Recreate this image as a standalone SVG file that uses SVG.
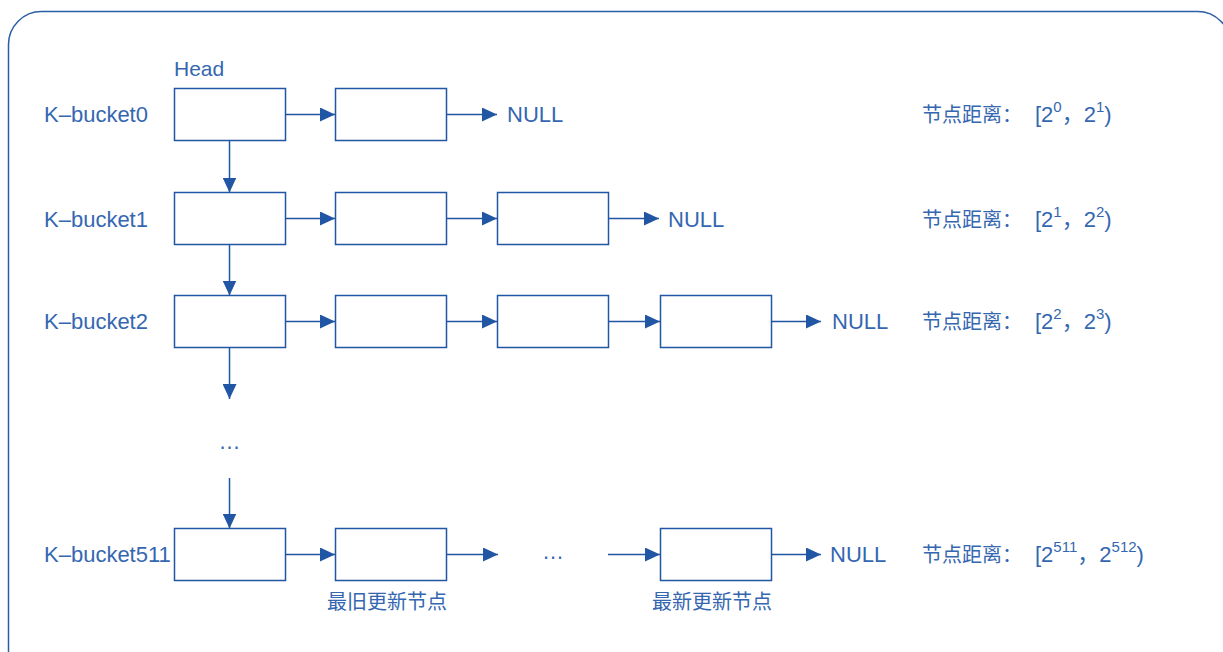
<svg xmlns="http://www.w3.org/2000/svg" width="1223" height="652" viewBox="0 0 1223 652">
<style>
.frame{fill:none;stroke:#2c5ea8;stroke-width:1.5}
.box{fill:#ffffff;stroke:#2156a5;stroke-width:1.5}
.ln{fill:none;stroke:#2156a5;stroke-width:1.5;marker-end:url(#ah)}
.t{font-family:"Liberation Sans","Noto Sans CJK SC",sans-serif;fill:#3567b1;font-size:22px}
.h{font-size:21px}
.c{font-family:"Noto Sans CJK SC","Liberation Sans",sans-serif;font-size:20px;fill:#3567b1}
.s{font-size:15px}
</style>
<defs>
<marker id="ah" markerUnits="userSpaceOnUse" markerWidth="16" markerHeight="14" refX="15" refY="7" orient="auto">
<path d="M0,0 L15,7 L0,14 z" fill="#2156a5"/>
</marker>
</defs>
<rect class="frame" x="8.5" y="11.5" width="1222" height="680" rx="33" ry="33"/>

<text class="t h" x="174" y="76">Head</text>

<g id="row0">
<text class="t" x="44" y="122">K–bucket0</text>
<rect id="b0_1" class="box" x="174.5" y="88.5" width="111" height="52"/>
<rect id="b0_2" class="box" x="335.5" y="88.5" width="111" height="52"/>
<text class="t" x="507" y="122">NULL</text>
</g>
<g id="row1">
<text class="t" x="44" y="226.5">K–bucket1</text>
<rect id="b1_1" class="box" x="174.5" y="192.5" width="111" height="52"/>
<rect id="b1_2" class="box" x="335.5" y="192.5" width="111" height="52"/>
<rect id="b1_3" class="box" x="497.5" y="192.5" width="111" height="52"/>
<text class="t" x="668" y="226.5">NULL</text>
</g>
<g id="row2">
<text class="t" x="44" y="329">K–bucket2</text>
<rect id="b2_1" class="box" x="174.5" y="295.5" width="111" height="52"/>
<rect id="b2_2" class="box" x="335.5" y="295.5" width="111" height="52"/>
<rect id="b2_3" class="box" x="497.5" y="295.5" width="111" height="52"/>
<rect id="b2_4" class="box" x="660.5" y="295.5" width="111" height="52"/>
<text class="t" x="832" y="329">NULL</text>
</g>
<g id="ellipsis">
<text class="t" x="229.5" y="449" text-anchor="middle">…</text>
</g>
<g id="row511">
<text class="t" x="44" y="562">K–bucket511</text>
<rect id="b511_1" class="box" x="174.5" y="528.5" width="111" height="52"/>
<rect id="b511_2" class="box" x="335.5" y="528.5" width="111" height="52"/>
<text class="t" x="553" y="559" text-anchor="middle">…</text>
<rect id="b511_4" class="box" x="660.5" y="528.5" width="111" height="52"/>
<text class="t" x="830" y="562">NULL</text>
<text class="c" x="327" y="609">最旧更新节点</text>
<text class="c" x="652" y="609">最新更新节点</text>
</g>

<g id="distances">
<text class="c" x="922" y="122">节点距离：</text>
<text class="t" x="1035" y="122">[2<tspan class="s" dy="-10">0</tspan><tspan dy="10" font-family="Noto Sans CJK SC">，</tspan>2<tspan class="s" dy="-10">1</tspan><tspan dy="10">)</tspan></text>
<text class="c" x="922" y="226.5">节点距离：</text>
<text class="t" x="1035" y="226.5">[2<tspan class="s" dy="-10">1</tspan><tspan dy="10" font-family="Noto Sans CJK SC">，</tspan>2<tspan class="s" dy="-10">2</tspan><tspan dy="10">)</tspan></text>
<text class="c" x="922" y="329">节点距离：</text>
<text class="t" x="1035" y="329">[2<tspan class="s" dy="-10">2</tspan><tspan dy="10" font-family="Noto Sans CJK SC">，</tspan>2<tspan class="s" dy="-10">3</tspan><tspan dy="10">)</tspan></text>
<text class="c" x="922" y="562">节点距离：</text>
<text class="t" x="1035" y="562">[2<tspan class="s" dy="-10">511</tspan><tspan dy="10" font-family="Noto Sans CJK SC">，</tspan>2<tspan class="s" dy="-10">512</tspan><tspan dy="10">)</tspan></text>
</g>

<g id="connectors">
<line class="ln" x1="285.5" y1="114.5" x2="335" y2="114.5"/>
<line class="ln" x1="446.5" y1="114.5" x2="497" y2="114.5"/>
<line class="ln" x1="285.5" y1="218.5" x2="335" y2="218.5"/>
<line class="ln" x1="446.5" y1="218.5" x2="497" y2="218.5"/>
<line class="ln" x1="608.5" y1="218.5" x2="659" y2="218.5"/>
<line class="ln" x1="285.5" y1="321.5" x2="335" y2="321.5"/>
<line class="ln" x1="446.5" y1="321.5" x2="497" y2="321.5"/>
<line class="ln" x1="608.5" y1="321.5" x2="660" y2="321.5"/>
<line class="ln" x1="771.5" y1="321.5" x2="821" y2="321.5"/>
<line class="ln" x1="285.5" y1="554.5" x2="335" y2="554.5"/>
<line class="ln" x1="446.5" y1="554.5" x2="498" y2="554.5"/>
<line class="ln" x1="608" y1="554.5" x2="660" y2="554.5"/>
<line class="ln" x1="771.5" y1="554.5" x2="821" y2="554.5"/>
<line class="ln" x1="229.5" y1="140.5" x2="229.5" y2="192.5"/>
<line class="ln" x1="229.5" y1="244.5" x2="229.5" y2="295.5"/>
<line class="ln" x1="229.5" y1="347.5" x2="229.5" y2="399"/>
<line class="ln" x1="229.5" y1="478" x2="229.5" y2="528.5"/>
</g>
</svg>
